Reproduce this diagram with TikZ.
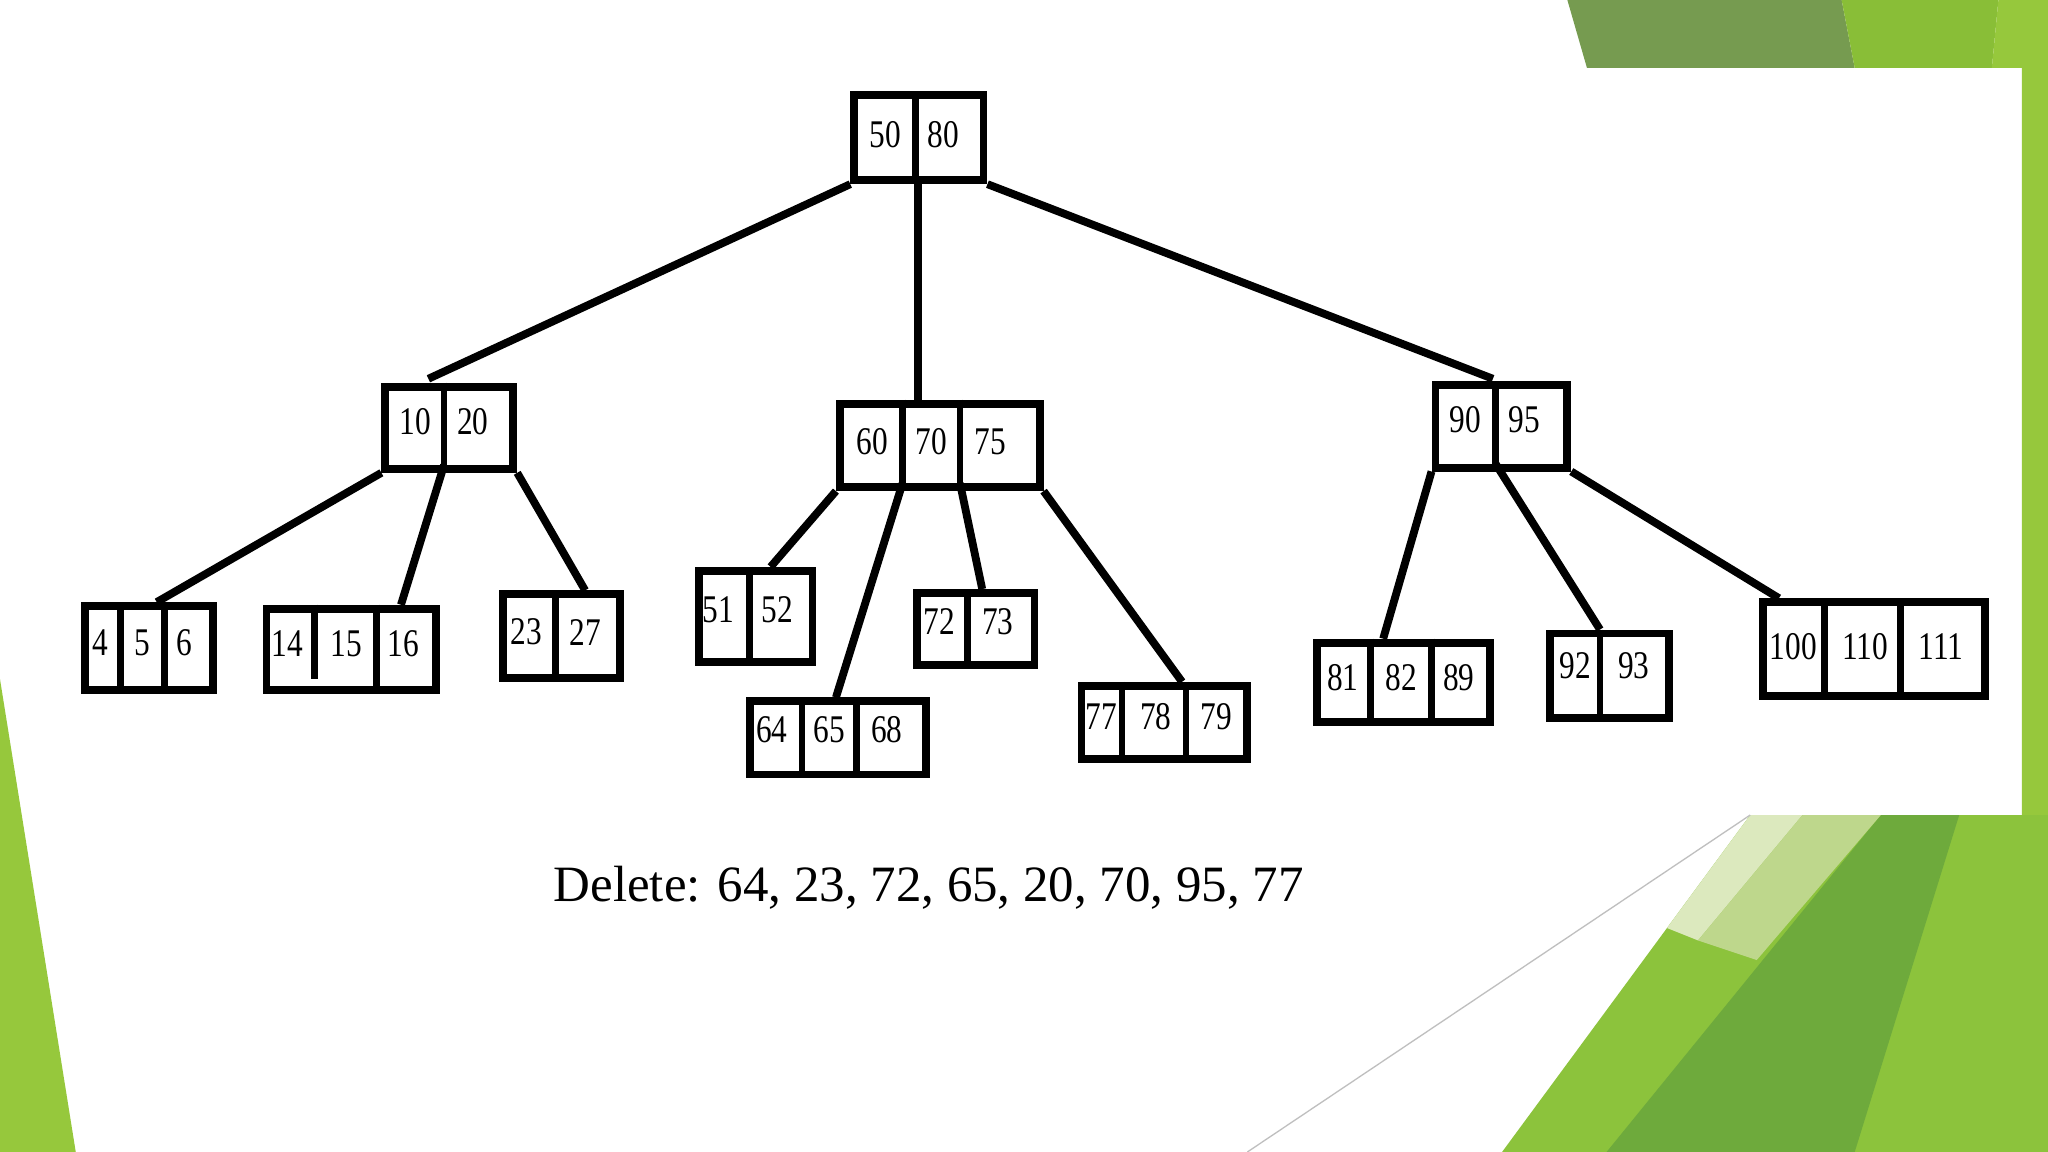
\documentclass[tikz,border=0pt]{standalone}
\usepackage{fontspec}
\setmainfont{Liberation Serif}
\begin{document}
\begin{tikzpicture}[x=0.5pt,y=-0.5pt,
  box/.style={draw,line width=3pt,inner sep=0pt,anchor=north west},
  edge/.style={line width=3pt},
  lbl/.style={font=\fontsize{15}{15}\selectfont\addfontfeature{FakeStretch=0.8}},
  div/.style={line width=2.6pt}]
\newcommand\tb[5]{\node[box,minimum width={(#4-#2)*0.5pt},minimum height={(#5-#3)*0.5pt}] (#1) at (#2,#3) {};}
\useasboundingbox (0,0) rectangle (1568,882);
\fill[white] (0,0) rectangle (1568,882);
% background greens
\fill[color={rgb,255:red,118;green,155;blue,80}] (1200,0) -- (1410,0) -- (1420,52) -- (1215,52) -- cycle;
\fill[color={rgb,255:red,137;green,190;blue,55}] (1410,0) -- (1530,0) -- (1525,52) -- (1420,52) -- cycle;
\fill[color={rgb,255:red,150;green,200;blue,60}] (1530,0) -- (1568,0) -- (1568,624) -- (1548,624) -- (1548,52) -- (1525,52) -- cycle;
\fill[color={rgb,255:red,150;green,200;blue,60}] (0,520) -- (58,882) -- (0,882) -- cycle;
\fill[color={rgb,255:red,140;green,195;blue,60}] (1150,882) -- (1340,624) -- (1568,624) -- (1568,882) -- cycle;
\begin{scope}
\clip (1150,882) -- (1340,624) -- (1568,624) -- (1568,882) -- cycle;
\fill[color={rgb,255:red,110;green,170;blue,60}] (1230,882) -- (1440,624) -- (1500,624) -- (1420,882) -- cycle;
\fill[color={rgb,255:red,220;green,233;blue,190}] (1250,700) -- (1340,624) -- (1380,624) -- (1300,720) -- cycle;
\fill[color={rgb,255:red,190;green,215;blue,140}] (1300,720) -- (1380,624) -- (1440,624) -- (1345,735) -- cycle;
\end{scope}
\draw[gray!50,line width=0.5pt] (955,882) -- (1340,624);
% nodes
\tb{r}{651}{70}{750}{135}
\tb{a}{292}{293}{390}{356}
\tb{b}{640}{306}{793}{370}
\tb{c}{1096}{292}{1197}{355}
\tb{l1}{62}{461}{160}{525}
\tb{l2}{201}{463}{331}{525}
\tb{l3}{382}{452}{472}{516}
\tb{l4}{532}{434}{619}{504}
\tb{l5}{571}{534}{706}{590}
\tb{l6}{699}{451}{789}{506}
\tb{l7}{825}{522}{952}{578}
\tb{l8}{1005}{489}{1138}{550}
\tb{l9}{1184}{482}{1275}{547}
\tb{l10}{1347}{458}{1517}{530}
% dividers
\foreach \x/\ya/\yb in {701/70/135, 340/293/356, 691/306/370, 735/306/370, 1145/292/355,
 92/461/525, 126/461/530, 241/463/520, 288/463/525, 425/452/516, 574/434/504,
 614/534/590, 656/534/590, 741/451/506, 859/522/578, 908/522/578,
 1049/489/553, 1096/489/550, 1225/482/550, 1397/458/530, 1455/458/530}
  \draw[div] (\x,\ya) -- (\x,\yb);
% labels
\foreach \x/\y/\t in {678/103/50, 722/103/80, 318/323/10, 362/323/20,
 668/338/60, 713/338/70, 758/338/75, 1122/321/90, 1167/321/95,
 77/492/4, 109/492/5, 141/492/6, 220/493/14, 265/493/15, 309/493/16,
 403/484/23, 448/484/27, 550/467/51, 595/467/52, 591/559/64, 635/559/65, 679/559/68,
 719/476/72, 764/476/73, 843/549/77, 885/549/78, 931/549/79,
 1028/519/81, 1073/519/82, 1117/519/89, 1206/510/92, 1251/510/93,
 1373/495/100, 1428/495/110, 1486/495/111}
  \node[lbl] at (\x,\y) {\t};
% edges
\draw[edge] (r.south west) -- (328,290);
\draw[edge] (703,135) -- (703,306);
\draw[edge] (r.south east) -- (1143,290);
\draw[edge] (a.south west) -- (120,461);
\draw[edge] (340,356) -- (307,463);
\draw[edge] (a.south east) -- (448,452);
\draw[edge] (b.south west) -- (590,434);
\draw[edge] (691,370) -- (640,534);
\draw[edge] (735,370) -- (752,451);
\draw[edge] (b.south east) -- (905,522);
\draw[edge] (c.south west) -- (1059,489);
\draw[edge] (1145,355) -- (1225,482);
\draw[edge] (c.south east) -- (1362,458);
\node[font=\fontsize{19.5}{20}\selectfont] (t) at (711,680) {Delete: 64, 23, 72, 65, 20, 70, 95, 77};
\end{tikzpicture}
\end{document}
